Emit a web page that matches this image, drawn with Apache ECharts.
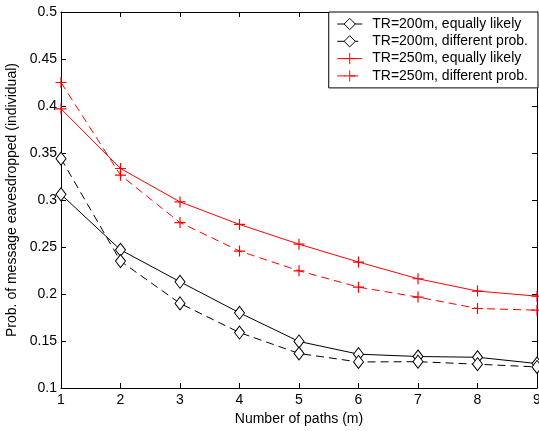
<!DOCTYPE html>
<html><head><meta charset="utf-8">
<script src="https://cdn.jsdelivr.net/npm/echarts@6/dist/echarts.min.js"></script>
<style>html,body{margin:0;padding:0;background:#fff}#c{width:539px;height:431px}</style>
</head><body><div id="c"></div>
<script>
const paths = [1,2,3,4,5,6,7,8,9];
const tr200Equal = [0.306,0.247,0.213,0.180,0.1495,0.136,0.1335,0.1327,0.126];
const tr200Diff  = [0.344,0.235,0.190,0.159,0.1367,0.1277,0.128,0.1253,0.1224];
const tr250Equal = [0.397,0.3335,0.298,0.274,0.253,0.234,0.2162,0.2031,0.1977];
const tr250Diff  = [0.425,0.3264,0.276,0.2457,0.2247,0.2073,0.1967,0.1846,0.1828];
const names = ['TR=200m, equally likely','TR=200m, different prob.','TR=250m, equally likely','TR=250m, different prob.'];

const FONT = 'Liberation Sans, Arial, Helvetica, sans-serif';
const plus = 'path://M0,5L10,5M5,0L5,10';
function pairs(v){ return paths.map((x,i)=>[x,v[i]]); }
function diamondSeries(name, data, dashed){
  return {name, type:'line', data:pairs(data), symbol:'diamond', symbolSize:[10,13],
    lineStyle:{color:'#000',width:1,type:dashed?[8,5]:'solid'},
    itemStyle:{color:'#fff',borderColor:'#000',borderWidth:1}, z:3};
}
function plusSeries(name, data, dashed){
  return {name, type:'line', data:pairs(data), symbol:plus, symbolSize:11,
    lineStyle:{color:'#ff0000',width:1,type:dashed?[8,5]:'solid'},
    itemStyle:{color:'#ff0000',borderColor:'#ff0000',borderWidth:1.2}, z:3};
}
const chart = echarts.init(document.getElementById('c'));
chart.setOption({
  backgroundColor:'#fff',
  animation:false,
  grid:{left:61,right:2,top:12,bottom:43,containLabel:false,outerBoundsMode:'none'},
  legend:{
    data:names, orient:'vertical', right:1, top:12,
    backgroundColor:'#fff', borderColor:'#000', borderWidth:1,
    padding:[5,10,5,8], itemGap:3.3, itemWidth:25, itemHeight:14,
    lineStyle:{width:1},
    itemStyle:{borderWidth:1},
    textStyle:{fontFamily:FONT,fontSize:14,color:'#000',padding:[0,0,0,5]}
  },
  xAxis:[{type:'value',min:1,max:9,interval:1,name:'Number of paths (m)',nameLocation:'middle',nameGap:24,
    nameTextStyle:{fontFamily:FONT,fontSize:14,color:'#000'},
    axisLine:{lineStyle:{color:'#000',width:1}},axisTick:{inside:true,length:5,lineStyle:{color:'#000'}},
    axisLabel:{fontFamily:FONT,fontSize:14,color:'#000',margin:5},splitLine:{show:false}},
    {type:'value',min:1,max:9,interval:1,position:'top',axisLine:{lineStyle:{color:'#000',width:1}},
    axisTick:{inside:true,length:5,lineStyle:{color:'#000'}},axisLabel:{show:false},splitLine:{show:false}}],
  yAxis:[{type:'value',min:0.1,max:0.5,interval:0.05,name:'Prob. of message eavesdropped (individual)',
    nameLocation:'middle',nameGap:36,nameTextStyle:{fontFamily:FONT,fontSize:14,color:'#000'},
    axisLine:{lineStyle:{color:'#000',width:1}},axisTick:{inside:true,length:5,lineStyle:{color:'#000'}},
    axisLabel:{fontFamily:FONT,fontSize:14,color:'#000',margin:4},splitLine:{show:false}},
    {type:'value',min:0.1,max:0.5,interval:0.05,position:'right',axisLine:{lineStyle:{color:'#000',width:1}},
    axisTick:{inside:true,length:5,lineStyle:{color:'#000'}},axisLabel:{show:false},splitLine:{show:false}}],
  series:[
    diamondSeries(names[0],tr200Equal,false),
    diamondSeries(names[1],tr200Diff,true),
    plusSeries(names[2],tr250Equal,false),
    plusSeries(names[3],tr250Diff,true)
  ]
});
</script></body></html>
